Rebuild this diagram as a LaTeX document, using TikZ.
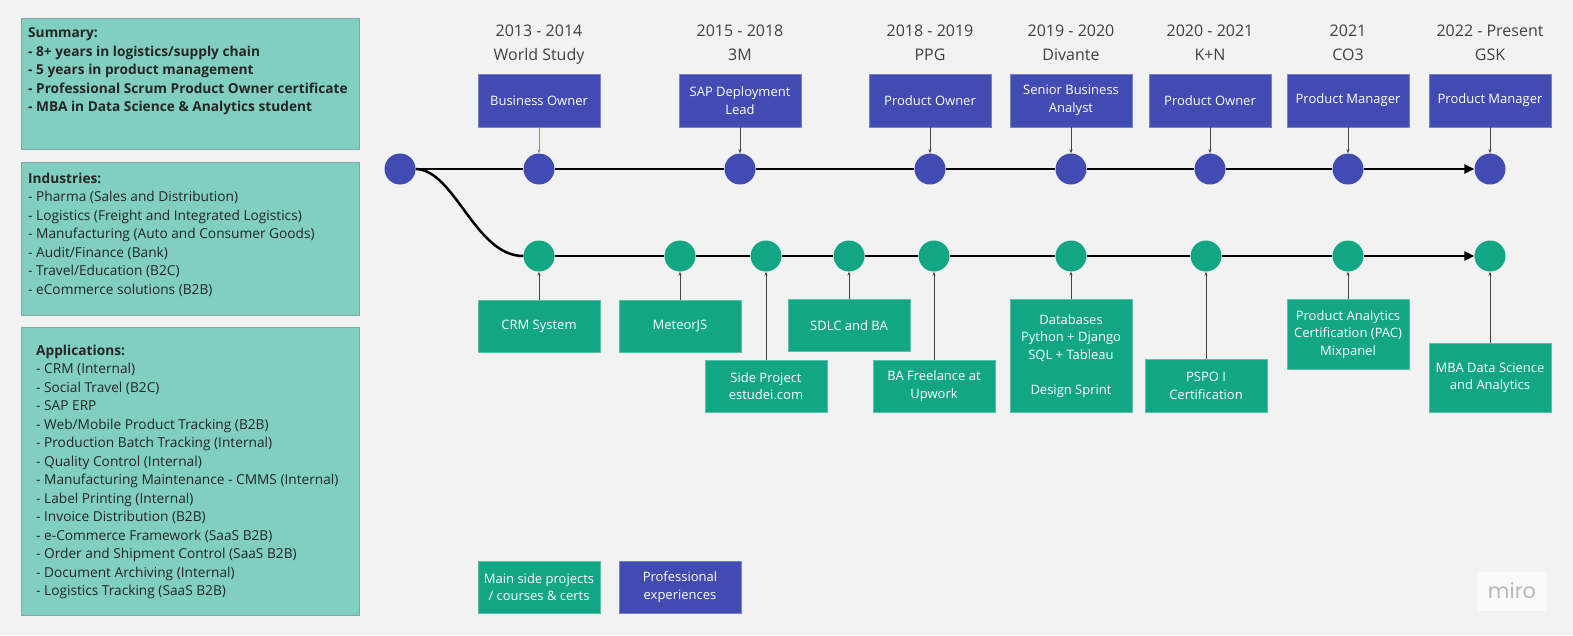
\documentclass[tikz,border=0pt]{standalone}
\usepackage{fontspec}
\setmainfont{Open Sans}
\newfontfamily\mirofont{Poppins}
\usetikzlibrary{arrows.meta,positioning}

\definecolor{canvas}{HTML}{F2F2F2}
\definecolor{panelfill}{HTML}{80CFC0}
\definecolor{panelline}{HTML}{7FA9A2}
\definecolor{problue}{HTML}{414BB2}
\definecolor{sidegreen}{HTML}{12A685}
\definecolor{yeargray}{HTML}{404040}
\definecolor{linkgray}{HTML}{444444}
\definecolor{linkpurple}{HTML}{9A7FE0}

\tikzset{
  panel/.style={draw=panelline, fill=panelfill, line width=0.8pt, anchor=north west, inner sep=0pt},
  paneltext/.style={anchor=base west, inner sep=0pt, text=black!85, font=\fontsize{13.7}{16}\selectfont},
  panelhead/.style={paneltext, font=\fontsize{13.7}{16}\selectfont\bfseries},
  jobbox/.style={fill=problue, draw=problue!70!white, line width=0.6pt, text=white, minimum width=122pt, minimum height=53pt, align=center, inner sep=2pt, font=\fontsize{13}{18}\selectfont},
  sidebox/.style={fill=sidegreen, draw=sidegreen!70!white, line width=0.6pt, text=white, minimum width=122pt, align=center, inner sep=2pt, font=\fontsize{13}{17.5}\selectfont},
  jobdot/.style={circle, fill=problue, minimum size=31pt, inner sep=0pt},
  sidedot/.style={circle, fill=sidegreen, minimum size=31pt, inner sep=0pt},
  yearlabel/.style={anchor=base, inner sep=0pt, text=yeargray, font=\fontsize{16}{20}\selectfont},
  mainline/.style={line width=2.5pt},
  mainarrow/.style={line width=2.5pt, -{Triangle[length=10pt,width=9pt]}},
  link/.style={draw=linkgray, line width=0.6pt, -{Stealth[length=4pt,width=3pt]}},
}

\begin{document}
\begin{tikzpicture}[x=1pt,y=-1pt]
    \useasboundingbox (0,0) rectangle (1573,635);
    \fill[canvas] (0,0) rectangle (1573,635);

    % Left panels
    \node[panel, minimum width=338pt, minimum height=131pt] (summary) at (21,18) {};
    \node[panel, minimum width=338pt, minimum height=153pt] (industries) at (21,162) {};
    \node[panel, minimum width=338pt, minimum height=288pt] (applications) at (21,327) {};

    \foreach \ln [count=\i from 0] in {Summary:, - 8+ years in logistics/supply chain, - 5 years in product management, - Professional Scrum Product Owner certificate, - MBA in Data Science \& Analytics student} {
        \node[panelhead] (sumline\i) at (28,{37.7+18.5*\i}) {\ln};
    }

    \node[panelhead] (indhead) at (28,183) {Industries:};
    \foreach \ln [count=\i] in {- Pharma (Sales and Distribution), - Logistics (Freight and Integrated Logistics), - Manufacturing (Auto and Consumer Goods), - Audit/Finance (Bank), - Travel/Education (B2C), - eCommerce solutions (B2B)} {
        \node[paneltext] (indline\i) at (28,{183+18.5*\i}) {\ln};
    }

    \node[panelhead] (apphead) at (36,355) {Applications:};
    \foreach \ln [count=\i] in {- CRM (Internal), - Social Travel (B2C), - SAP ERP, - Web/Mobile Product Tracking (B2B), - Production Batch Tracking (Internal), - Quality Control (Internal), - Manufacturing Maintenance - CMMS (Internal), - Label Printing (Internal), - Invoice Distribution (B2B), - e-Commerce Framework (SaaS B2B), - Order and Shipment Control (SaaS B2B), - Document Archiving (Internal), - Logistics Tracking (SaaS B2B)} {
        \node[paneltext] (appline\i) at (36,{355+18.5*\i}) {\ln};
    }

    % Professional timeline (top)
    \node[jobdot] (start) at (400,169) {};
    \foreach \x/\yrs/\firm/\job/\lc [count=\i] in {
        539/2013 - 2014/World Study/Business Owner/linkpurple,
        740/2015 - 2018/3M/{SAP Deployment\\Lead}/linkgray,
        930/2018 - 2019/PPG/Product Owner/linkgray,
        1071/2019 - 2020/Divante/{Senior Business\\Analyst}/linkgray,
        1210/2020 - 2021/K+N/Product Owner/linkgray,
        1348/2021/CO3/Product Manager/linkgray,
        1490/2022 - Present/GSK/Product Manager/linkgray} {
        \node[yearlabel] (years\i) at (\x,36) {\yrs};
        \node[yearlabel] (firm\i) at (\x,60) {\firm};
        \node[jobbox] (job\i) at (\x,100.5) {\job};
        \node[jobdot] (jdot\i) at (\x,169) {};
        \draw[link, draw=\lc] (job\i) -- (jdot\i);
    }
    \draw[mainline] (start) -- (jdot1) (jdot1) -- (jdot2) (jdot2) -- (jdot3)
        (jdot3) -- (jdot4) (jdot4) -- (jdot5) (jdot5) -- (jdot6);
    \draw[mainarrow] (jdot6) -- (jdot7);

    % Side projects timeline (bottom)
    \foreach \x/\ytop/\h/\txt [count=\i] in {
        539/300/52/CRM System,
        680/300/52/MeteorJS,
        766/360/52/{Side Project\\estudei.com},
        849/299/52/SDLC and BA,
        934/360/52/{BA Freelance at\\Upwork},
        1071/299/113/{Databases\\Python + Django\\SQL + Tableau\\[17.5pt]Design Sprint},
        1206/359/53/{PSPO I\\Certification},
        1348/299/70/{Product Analytics\\Certification (PAC)\\Mixpanel},
        1490/343/69/{MBA Data Science\\and Analytics}} {
        \node[sidedot] (sdot\i) at (\x,256) {};
        \node[sidebox, anchor=north, minimum height=\h pt] (side\i) at (\x,\ytop) {\txt};
        \draw[link] (side\i) -- (sdot\i);
    }
    \draw[mainline] (start.east) .. controls (455,170) and (475,256) .. (sdot1.west);
    \draw[mainline] (sdot1) -- (sdot2) (sdot2) -- (sdot3) (sdot3) -- (sdot4)
        (sdot4) -- (sdot5) (sdot5) -- (sdot6) (sdot6) -- (sdot7) (sdot7) -- (sdot8);
    \draw[mainarrow] (sdot8) -- (sdot9);

    % Legend
    \node[sidebox, minimum height=52pt] (keyside) at (539,587) {Main side projects\\/ courses \& certs};
    \node[jobbox, minimum height=52pt] (keyjob) at (680,587) {Professional\\experiences};

    % Watermark
    \node[fill=white!60!canvas, minimum width=70pt, minimum height=39pt, inner sep=0pt,
          text=black!28, font=\mirofont\fontsize{21}{21}\selectfont] (miro) at (1512,591) {miro};
\end{tikzpicture}
\end{document}
